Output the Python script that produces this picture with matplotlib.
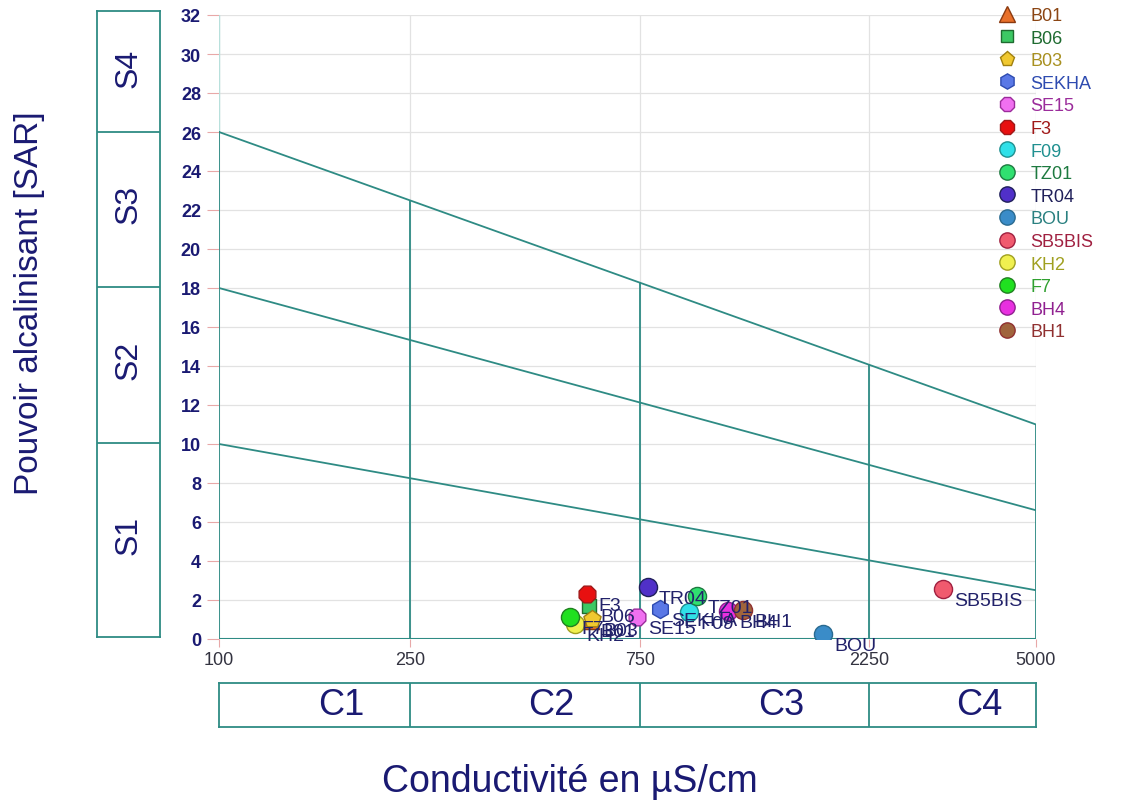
import numpy as np
import matplotlib.pyplot as plt
from matplotlib.lines import Line2D

plt.rcParams['font.family'] = ['Liberation Sans', 'DejaVu Sans']

# samples: conductivity (uS/cm) and SAR
names = ['B01', 'B06', 'B03', 'SEKHA', 'SE15', 'F3', 'F09', 'TZ01', 'TR04',
         'BOU', 'SB5BIS', 'KH2', 'F7', 'BH4', 'BH1']
cond = [590, 588, 598, 826, 740, 582, 949, 986, 780, 1802, 3200, 550, 537, 1143, 1228]
sar = [0.95, 1.7, 1.03, 1.54, 1.13, 2.3, 1.38, 2.2, 2.67, 0.26, 2.56, 0.77, 1.13, 1.44, 1.49]
markers = ['^', 's', 'p', 'h', '8', '8', 'o', 'o', 'o', 'o', 'o', 'o', 'o', 'o', 'o']
faces = ['#e8702a', '#3cc864', '#f0c830', '#5a78e6', '#f070f0', '#e81010', '#30e0e8',
         '#30e070', '#5030c8', '#3a8cc8', '#f05a6e', '#f0f050', '#20e020', '#e830e0', '#a0643c']
edges = ['#8b3a10', '#1e6b30', '#a08010', '#2e4bb0', '#9b2c9b', '#a01818', '#209090',
         '#1e7a40', '#20205a', '#2a6a90', '#a02040', '#a0a020', '#208020', '#902090', '#903030']
text_cols = ['#8b4513', '#1e6b30', '#a89020', '#2e4bb0', '#9b2c9b', '#a01818', '#209090',
             '#1e7a40', '#20205a', '#2a8080', '#a02040', '#a0a020', '#30a030', '#902090', '#903030']

# class boundaries
c_bounds = [100, 250, 750, 2250, 5000]
c_labels = ['C1', 'C2', 'C3', 'C4']
s_start = [10, 18, 26]
s_end = [2.5, 6.6, 11]
s_bounds = [0, 10, 18, 26, 32]
s_labels = ['S1', 'S2', 'S3', 'S4']

teal = '#2e8b84'
navy = '#1a1a72'

fig = plt.figure(figsize=(11.24, 8.03), dpi=100)
ax = fig.add_axes([219 / 1124, 1 - 640 / 803, 817 / 1124, 624 / 803])
ax.set_xscale('log')
ax.set_xlim(100, 5000)
ax.set_ylim(0, 32)
ax.set_xticks(c_bounds)
ax.set_xticklabels([str(v) for v in c_bounds])
ax.minorticks_off()
ax.set_yticks(np.arange(0, 33, 2))
for s in ax.spines.values():
    s.set_visible(False)
ax.grid(True, color='#e2e2e2', lw=0.9)
ax.set_axisbelow(True)
ax.tick_params(axis='y', length=9, color='#e8a8a8', pad=4, labelsize=13, labelcolor=navy)
ax.tick_params(axis='x', length=6, color='#e8a8a8', pad=3, labelsize=13, labelcolor='#333340')
for lab in ax.get_yticklabels():
    lab.set_fontweight('bold')

# boundary lines
ax.plot([100, 100], [26, 32], color='#b8e0dc', lw=1, zorder=2)
for a, b in zip(s_start, s_end):
    ax.plot([100, 5000], [a, b], color=teal, lw=1.3, zorder=2)
ax.plot([100, 5000], [0, 0], color=teal, lw=1.5, zorder=2)
for xv in c_bounds:
    t = np.log10(xv / 100) / np.log10(50)
    ytop = s_start[-1] + (s_end[-1] - s_start[-1]) * t
    ax.plot([xv, xv], [0, ytop], color=teal, lw=1.3, zorder=2)

for i in range(len(names)):
    ax.scatter(cond[i], sar[i], marker=markers[i], s=170 if markers[i] != 's' else 90,
               c=faces[i], edgecolors=edges[i], linewidths=1, zorder=3)
for i in range(len(names)):
    ax.annotate(names[i], (cond[i], sar[i]), xytext=(8, -8), textcoords='offset points',
                ha='left', va='center', fontsize=14, color='#22226a', zorder=4)

handles = [Line2D([], [], ls='none', marker=markers[i], markersize=11 if markers[i] != 's' else 8,
                  markerfacecolor=faces[i], markeredgecolor=edges[i]) for i in range(len(names))]
leg = ax.legend(handles, names, loc='upper left', bbox_to_anchor=(996 / 1124, 1 - 8 / 803),
                bbox_transform=fig.transFigure, frameon=False, fontsize=13,
                labelspacing=0.31, handletextpad=0.7, handlelength=1.2, borderaxespad=0,
                borderpad=0)
for txt, col in zip(leg.get_texts(), text_cols):
    txt.set_color(col)

fig.text(30 / 1124, 1 - 303 / 803, 'Pouvoir alcalinisant [SAR]', rotation=90,
         ha='center', va='center', fontsize=24, color=navy)

# S box on the left
axs = fig.add_axes([97 / 1124, 1 - 638 / 803, 63 / 1124, 626 / 803])
axs.set_xlim(0, 1)
axs.set_ylim(0, 32.2)
axs.set_xticks([])
axs.set_yticks([])
for s in axs.spines.values():
    s.set_color(teal)
    s.set_linewidth(1.3)
for b in s_bounds[1:-1]:
    axs.axhline(b, color=teal, lw=1.3)
for lab, lo, hi in zip(s_labels, s_bounds[:-1], s_bounds[1:]):
    axs.text(0.5, (lo + hi) / 2 + 0.3, lab, rotation=90, ha='center', va='center',
             fontsize=23, color=navy)

# C box below
axc = fig.add_axes([219 / 1124, 1 - 728 / 803, 817 / 1124, 44 / 803])
axc.set_xscale('log')
axc.set_xlim(100, 5000)
axc.set_ylim(0, 1)
axc.set_xticks([])
axc.set_yticks([])
axc.minorticks_off()
for s in axc.spines.values():
    s.set_color(teal)
    s.set_linewidth(1.3)
for b in c_bounds[1:-1]:
    axc.axvline(b, color=teal, lw=1.3)
for lab, lo, hi in zip(c_labels, c_bounds[:-1], c_bounds[1:]):
    axc.annotate(lab, (np.sqrt(lo * hi), 0.5), xytext=(19, 0), textcoords='offset points',
                 ha='center', va='center', fontsize=26, color=navy)

fig.text(570 / 1124, 1 - 782 / 803, 'Conductivité en µS/cm', ha='center', va='center',
         fontsize=27, color=navy)

fig.savefig('out.png', dpi=100)
